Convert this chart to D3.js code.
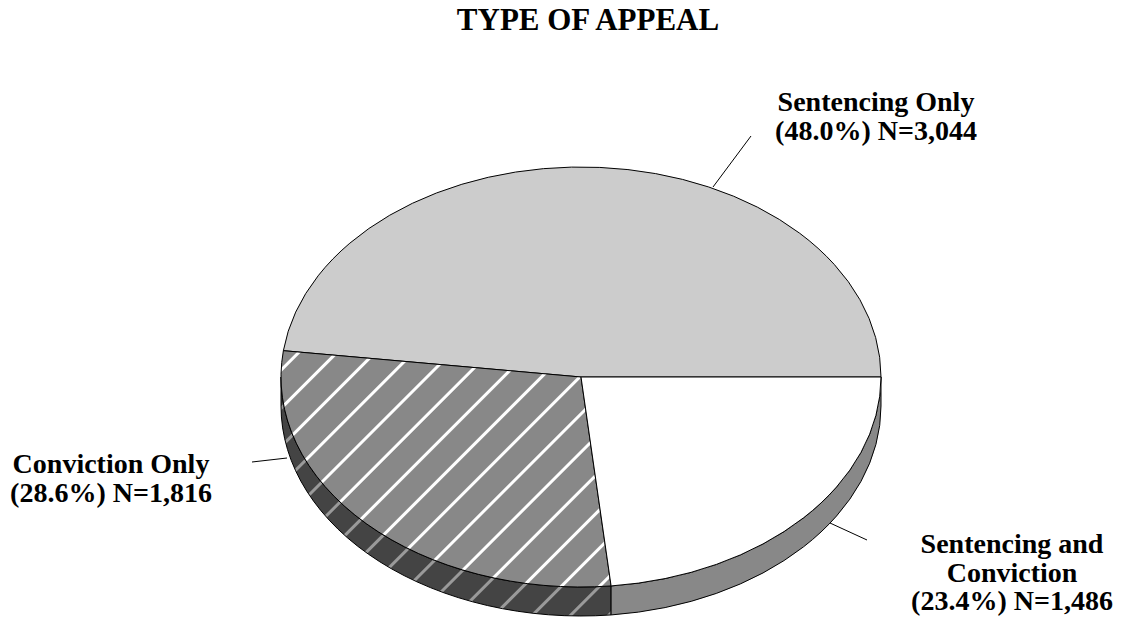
<!DOCTYPE html>
<html>
<head>
<meta charset="utf-8">
<script src="https://cdn.jsdelivr.net/npm/d3@7"></script>
<style>
  body { margin: 0; background: #fff; }
  text { font-family: "Liberation Serif", "Times New Roman", serif; font-weight: bold; fill: #000; }
</style>
</head>
<body>
<div id="chart-area"></div>
<script>
// data
const categories = ["Sentencing Only", "Conviction Only", "Sentencing and Conviction"]
const counts = [3044, 1816, 1486]
const percents = [48.0, 28.6, 23.4]

const WIDTH = 1124
const HEIGHT = 620
const CX = 581, CY = 377, RX = 300, RY = 210, DEPTH = 29

const svg = d3.select("#chart-area").append("svg")
  .attr("width", WIDTH)
  .attr("height", HEIGHT)

const defs = svg.append("defs")
function hatch(id, bg, fg) {
  const p = defs.append("pattern")
    .attr("id", id)
    .attr("patternUnits", "userSpaceOnUse")
    .attr("width", 27).attr("height", 27)
    .attr("patternTransform", "rotate(45)")
  p.append("rect").attr("width", 27).attr("height", 27).attr("fill", bg)
  p.append("rect").attr("x", 0).attr("width", 3).attr("height", 27).attr("fill", fg)
}
hatch("hatchTop", "#888888", "#ffffff")
hatch("hatchSide", "#444444", "#9a9a9a")

const topFill = ["#cccccc", "url(#hatchTop)", "#ffffff"]
const sideFill = ["#aaaaaa", "url(#hatchSide)", "#888888"]

// angles counter-clockwise from 3 o'clock
const pie = d3.pie().sort(null).startAngle(0).endAngle(2 * Math.PI)
const arcs = pie(percents)

const pt = (t, dy = 0) => [CX + RX * Math.cos(t), CY - RY * Math.sin(t) + dy]

const g = svg.append("g")

// side walls (only the front half is visible)
arcs.forEach((a, i) => {
  const s = Math.max(a.startAngle, Math.PI)
  const e = Math.min(a.endAngle, 2 * Math.PI)
  if (e <= s) return
  const p0 = pt(s), p1 = pt(e), q1 = pt(e, DEPTH), q0 = pt(s, DEPTH)
  const path = `M${p0}A${RX},${RY} 0 0 0 ${p1}L${q1}A${RX},${RY} 0 0 1 ${q0}Z`
  g.append("path")
    .attr("d", path)
    .attr("fill", sideFill[i])
    .attr("stroke", "#000")
    .attr("stroke-width", 1)
})

// top faces
arcs.forEach((a, i) => {
  const p0 = pt(a.startAngle), p1 = pt(a.endAngle)
  const large = a.endAngle - a.startAngle > Math.PI ? 1 : 0
  const path = `M${CX},${CY}L${p0}A${RX},${RY} 0 ${large} 0 ${p1}Z`
  g.append("path")
    .attr("d", path)
    .attr("fill", topFill[i])
    .attr("stroke", "#000")
    .attr("stroke-width", 1)
})

// title
svg.append("text")
  .attr("x", 588).attr("y", 30)
  .attr("text-anchor", "middle")
  .attr("font-size", "31px")
  .text("TYPE OF APPEAL")

// labels
const fmt = d3.format(",")
const labelLines = [
  [categories[0], `(${percents[0].toFixed(1)}%) N=${fmt(counts[0])}`],
  ["Conviction Only", `(${percents[1].toFixed(1)}%) N=${fmt(counts[1])}`],
  ["Sentencing and", "Conviction", `(${percents[2].toFixed(1)}%) N=${fmt(counts[2])}`]
]
const labelPos = [[876, 111], [111, 473], [1012, 553]]
const leaders = [[[751, 136], [713, 187]], [[252, 462], [287, 458]], [[867, 540], [830, 523]]]

labelLines.forEach((lines, i) => {
  const t = svg.append("text")
    .attr("text-anchor", "middle")
    .attr("font-size", "28px")
  lines.forEach((l, j) => {
    t.append("tspan")
      .attr("x", labelPos[i][0])
      .attr("y", labelPos[i][1] + j * 28.5)
      .text(l)
  })
  svg.append("line")
    .attr("x1", leaders[i][0][0]).attr("y1", leaders[i][0][1])
    .attr("x2", leaders[i][1][0]).attr("y2", leaders[i][1][1])
    .attr("stroke", "#000").attr("stroke-width", 1)
})
</script>
</body>
</html>
